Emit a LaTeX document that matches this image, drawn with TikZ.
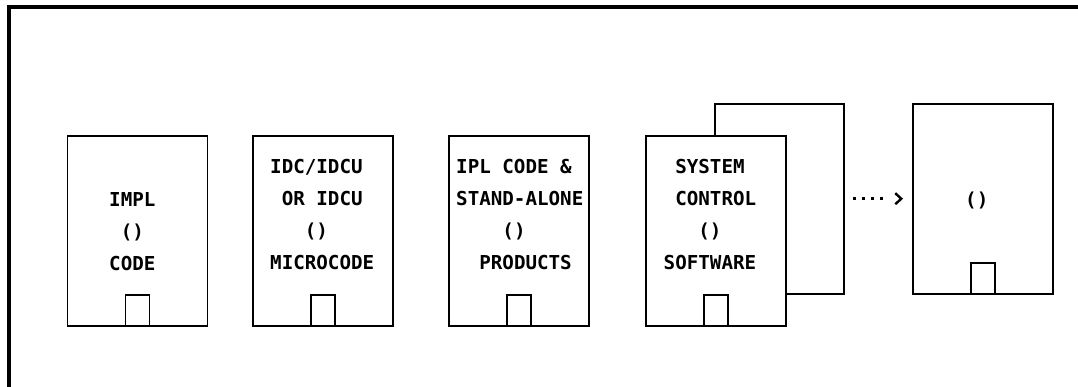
\documentclass[tikz,border=0pt]{standalone}
\usepackage{fontspec}
\newfontfamily\sheetfont{DejaVu Sans Mono}
\usetikzlibrary{arrows.meta}

\begin{document}
\begin{tikzpicture}[x=1pt,y=-1pt,
  sheet/.style={draw,line width=1.9pt,fill=white,inner sep=0pt,minimum width=140pt,minimum height=190pt},
  tab/.style={draw,line width=1.9pt,inner sep=0pt,minimum width=24pt,minimum height=31pt,anchor=south},
  sheettext/.style={font=\sheetfont\bfseries\fontsize{19.2}{32}\selectfont,align=left,anchor=base west,inner sep=0pt},
  dotarrow/.style={line width=2.6pt,dash pattern=on 3pt off 6pt on 3pt off 6pt on 3pt off 6pt on 3pt off 40pt,
    -{Straight Barb[length=6pt,width=11pt,line width=2.4pt]}}]
\useasboundingbox (0,0) rectangle (1078,386);
\fill[white] (0,0) rectangle (1078,386);
% outer frame, cut at right and bottom
\draw[line width=3.8pt,line join=miter] (1100,7) -- (9,7) -- (9,400);
% the sheets
\node[sheet] (impl) at (137.5,231.3) {};
\node[sheet] (idc) at (322.8,231.3) {};
\node[sheet] (ipl) at (519.4,231.3) {};
\node[sheet,minimum width=129pt] (rear) at (779.8,198.7) {};
\node[sheet] (sysctl) at (716,231.3) {};
\node[sheet] (final) at (983,198.7) {};
\node[tab] (impltab) at (impl.south) {};
\node[tab] (idctab) at (idc.south) {};
\node[tab] (ipltab) at (ipl.south) {};
\node[tab] (sysctltab) at (sysctl.south) {};
\node[tab] (finaltab) at (final.south) {};
% texts (base = last line)
\node[sheettext] (impltext) at (109,270) {IMPL\\~()\\CODE};
\node[sheettext] (idctext) at (270,269.7) {IDC/IDCU\\~OR~IDCU\\~~~()\\MICROCODE};
\node[sheettext] (ipltext) at (456,269.7) {IPL~CODE~\&\\STAND-ALONE\\~~~~()\\~~PRODUCTS};
\node[sheettext] (sysctltext) at (663.5,269.7) {~SYSTEM\\~CONTROL\\~~~()\\SOFTWARE};
\node[sheettext] (finaltext) at (965,206) {()};
\draw[dotarrow,shorten <=8pt,shorten >=9pt] (rear.east) -- (final.west);
\end{tikzpicture}
\end{document}
